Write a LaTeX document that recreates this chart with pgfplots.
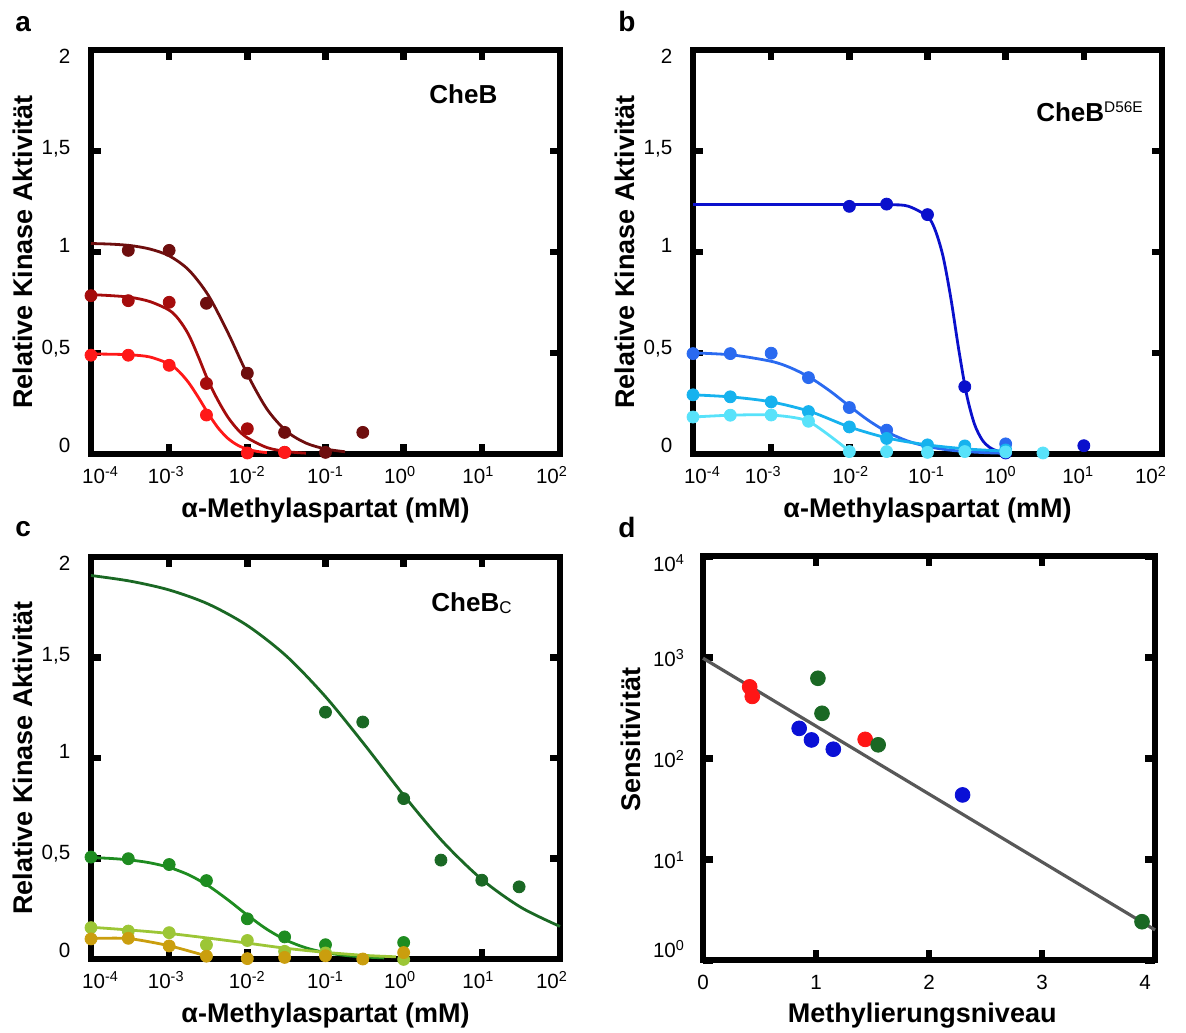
\documentclass[border=0pt]{standalone}
\usepackage{fontspec}
\setmainfont{Liberation Sans}
\usepackage{pgfplots}
\pgfplotsset{compat=1.18}

\definecolor{aDark}{RGB}{110,14,14}
\definecolor{aMid}{RGB}{165,12,12}
\definecolor{aLight}{RGB}{255,24,24}
\definecolor{bDark}{RGB}{10,16,204}
\definecolor{bMid}{RGB}{42,106,240}
\definecolor{bCyan}{RGB}{22,178,238}
\definecolor{bLight}{RGB}{88,226,250}
\definecolor{cDark}{RGB}{26,104,36}
\definecolor{cMid}{RGB}{30,140,32}
\definecolor{cLight}{RGB}{156,198,54}
\definecolor{cGold}{RGB}{202,158,14}
\definecolor{dRed}{RGB}{255,22,22}
\definecolor{dGreen}{RGB}{26,104,36}
\definecolor{dBlue}{RGB}{10,16,214}
\definecolor{dLine}{RGB}{88,88,88}

\newcommand{\tl}[2]{\raisebox{#1}[7.4pt][0pt]{#2}}
\newcommand{\dl}[2]{\raisebox{#1}[9pt][0pt]{10\textsuperscript{#2}}}
\newcommand{\xl}[2]{\makebox[0pt]{\hspace*{#1}#2}}
\newcommand{\tp}[1]{10\textsuperscript{#1}}

\pgfplotsset{
  myframe/.style={
    scale only axis,
    axis line style={line width=2.9pt, line cap=rect},
    tick style={black, line width=3.2pt},
    major tick length=5pt,
    tick align=inside,
    minor tick num=0,
    xminorticks=false, yminorticks=false,
    clip=false,
    tick label style={font=\fontsize{10.3}{12}\selectfont},
    label style={font=\bfseries\fontsize{13.5}{16}\selectfont},
  },
  kin/.style={
    myframe, width=234.5pt, height=202pt,
    xmin=-4, xmax=2, ymin=0, ymax=2,
    xtick={-4,-3,-2,-1,0,1,2}, ytick={0,0.5,1,1.5,2},
    yticklabels={{\tl{4.5pt}{0}},{\tl{3pt}{0,5}},{\tl{3.5pt}{1}},{\tl{1.75pt}{1,5}},{\tl{-2.85pt}{2}}},
    yticklabel style={xshift=-6.8pt},
    xticklabel style={yshift=-2.6pt},
    xlabel={α-Methylaspartat (mM)},
    ylabel={Relative Kinase Aktivität},
    xlabel style={at={(axis description cs:0.5,-0.141)}, anchor=center},
    ylabel style={at={(axis description cs:-0.146,0.5)}, anchor=center},
  },
  xac/.style={xticklabels={{\xl{9.5pt}{\tp{-4}}},{\xl{-3pt}{\tp{-3}}},{\xl{0pt}{\tp{-2}}},{\xl{0pt}{\tp{-1}}},{\xl{-3.5pt}{\tp{0}}},{\xl{-3.5pt}{\tp{1}}},{\xl{-8pt}{\tp{2}}}}},
  xb/.style={xticklabels={{\xl{9.4pt}{\tp{-4}}},{\xl{-8pt}{\tp{-3}}},{\xl{1.5pt}{\tp{-2}}},{\xl{-1pt}{\tp{-1}}},{\xl{-5pt}{\tp{0}}},{\xl{-5.6pt}{\tp{1}}},{\xl{-11pt}{\tp{2}}}}},
  crv/.style={smooth, line width=1.4pt, color=#1, mark=none},
  pts/.style={only marks, mark=*, mark size=3pt, color=#1, mark options={draw=none, fill=#1}},
}

\begin{document}
\begin{tikzpicture}

% ---------------- panel a ----------------
\begin{axis}[kin, xac, at={(45.5pt,289pt)}, anchor=south west]
\addplot[crv=aDark] coordinates {(-4,1.042) (-3.75,1.039) (-3.5,1.032) (-3.25,1.015) (-3,0.981) (-2.75,0.911) (-2.5,0.786) (-2.25,0.602) (-2,0.395) (-1.75,0.223) (-1.5,0.113) (-1.25,0.054) (-1,0.025) (-0.75,0.011)};
\addplot[crv=aMid] coordinates {(-4,0.789) (-3.75,0.784) (-3.5,0.776) (-3.25,0.755) (-3,0.712) (-2.875,0.665) (-2.75,0.590) (-2.625,0.480) (-2.5,0.362) (-2.375,0.265) (-2.25,0.183) (-2.125,0.122) (-2,0.080) (-1.75,0.032) (-1.5,0.012) (-1.25,0.004)};
\addplot[crv=aLight] coordinates {(-4,0.495) (-3.75,0.494) (-3.5,0.491) (-3.25,0.4805) (-3,0.4457) (-2.875,0.4087) (-2.75,0.3527) (-2.625,0.2793) (-2.5,0.200) (-2.375,0.1297) (-2.25,0.0776) (-2.125,0.0438) (-2,0.0239) (-1.875,0.0128) (-1.75,0.0068)};
\addplot[pts=aDark] coordinates {(-3.523,1.008) (-3,1.008) (-2.523,0.746) (-2,0.400) (-1.523,0.107) (-1,0.008) (-0.523,0.107)};
\addplot[pts=aMid] coordinates {(-4,0.784) (-3.523,0.759) (-3,0.751) (-2.523,0.349) (-2,0.125) (-1.523,0.008)};
\addplot[pts=aLight] coordinates {(-4,0.489) (-3.523,0.489) (-3,0.439) (-2.523,0.193) (-2,0.005) (-1.523,0.008)};
\end{axis}

% ---------------- panel b ----------------
\begin{axis}[kin, xb, at={(346.5pt,289pt)}, anchor=south west]
\addplot[crv=bDark] coordinates {(-4,1.235) (-3,1.235) (-2,1.235) (-1.5,1.234) (-1.25,1.227) (-1,1.1755) (-0.9,1.1067) (-0.8,0.976) (-0.7,0.768) (-0.6,0.516) (-0.5,0.2947) (-0.4,0.1486) (-0.3,0.0696) (-0.2,0.0313) (-0.1,0.0139) (0,0.0061)};
\addplot[crv=bMid] coordinates {(-4,0.5005) (-3.5,0.4903) (-3,0.4588) (-2.75,0.4265) (-2.5,0.3777) (-2.25,0.3124) (-2,0.2373) (-1.75,0.1648) (-1.5,0.1056) (-1.25,0.0638) (-1,0.037) (-0.75,0.0209) (-0.5,0.0116) (-0.25,0.0064) (0,0.0035)};
\addplot[crv=bCyan] coordinates {(-4,0.293) (-3.5,0.282) (-3,0.258) (-2.5,0.210) (-2,0.134) (-1.5,0.078) (-1,0.045) (-0.5,0.025) (0,0.014)};
\addplot[crv=bLight, tension=0.4] coordinates {(-4,0.183) (-3.523,0.192) (-3,0.193) (-2.523,0.162) (-2,0.015)};
\addplot[pts=bDark] coordinates {(-2,1.226) (-1.523,1.237) (-1,1.185) (-0.523,0.333) (0,0.005) (1,0.041)};
\addplot[pts=bMid] coordinates {(-4,0.497) (-3.523,0.497) (-3,0.499) (-2.523,0.378) (-2,0.23) (-1.523,0.118) (0,0.05)};
\addplot[pts=bCyan] coordinates {(-4,0.293) (-3.523,0.283) (-3,0.258) (-2.523,0.21) (-2,0.134) (-1.523,0.077) (-1,0.045) (-0.523,0.04) (0,0.02)};
\addplot[pts=bLight] coordinates {(-4,0.183) (-3.523,0.192) (-3,0.193) (-2.523,0.162) (-2,0.012) (-1.523,0.012) (-1,0.008) (-0.523,0.012) (0,0.01) (0.477,0.005)};
\node[anchor=base west, inner sep=0pt, font=\bfseries\fontsize{13}{15.6}\selectfont] at (rel axis cs:0.731,0.824) {CheB\raisebox{4.5pt}{\mdseries\fontsize{7.7}{9}\selectfont D56E}};
\end{axis}

% ---------------- panel c ----------------
\begin{axis}[kin, xac, height=201pt, at={(45.5pt,36.5pt)}, anchor=south west]
\addplot[crv=cDark] coordinates {(-4,1.908) (-3.5,1.880) (-3,1.836) (-2.5,1.766) (-2,1.659) (-1.5,1.507) (-1,1.305) (-0.5,1.066) (0,0.815) (0.5,0.584) (1,0.396) (1.5,0.257) (2,0.162)};
\addplot[crv=cMid] coordinates {(-4,0.5047) (-3.75,0.5003) (-3.5,0.4925) (-3.25,0.4788) (-3,0.4557) (-2.75,0.4187) (-2.5,0.3645) (-2.25,0.2948) (-2,0.2183) (-1.75,0.148) (-1.5,0.0931) (-1.25,0.0555) (-1,0.0319) (-0.75,0.0179) (-0.5,0.010) (-0.25,0.0055)};
\addplot[crv=cLight] coordinates {(-4,0.158) (-3.5,0.144) (-3,0.127) (-2.5,0.104) (-2,0.079) (-1.5,0.053) (-1,0.033) (-0.5,0.018) (-0.1,0.011)};
\addplot[crv=cGold, tension=0.4] coordinates {(-4,0.102) (-3.523,0.102) (-3,0.066) (-2.523,0.015)};
\addplot[pts=cDark] coordinates {(-1,1.228) (-0.523,1.179) (0,0.798) (0.477,0.492) (1,0.392) (1.477,0.359)};
\addplot[pts=cMid] coordinates {(-4,0.507) (-3.523,0.499) (-3,0.47) (-2.523,0.39) (-2,0.2) (-1.523,0.11) (-1,0.071) (0,0.082)};
\addplot[pts=cLight] coordinates {(-4,0.156) (-3.523,0.139) (-3,0.131) (-2.523,0.07) (-2,0.092) (-1.523,0.038) (-1,0.03) (0,-0.002)};
\addplot[pts=cGold] coordinates {(-4,0.1) (-3.523,0.103) (-3,0.065) (-2.523,0.014) (-2,0.002) (-1.523,0.008) (-1,0.016) (-0.523,0.0) (0,0.032)};
\end{axis}

% ---------------- panel d ----------------
\begin{axis}[myframe, width=226pt, height=202pt, at={(351.5pt,35.85pt)}, anchor=south west,
  xmin=0, xmax=4, ymode=log, ymin=1, ymax=10000,
  xtick={0,1,2,3,4}, ytick={1,10,100,1000,10000},
  xticklabels={{0},{1},{2},{3},{\xl{-10pt}{4}}},
  yticklabels={{\dl{6pt}{0}},{\dl{0pt}{1}},{\dl{0pt}{2}},{\dl{0pt}{3}},{\dl{-3pt}{4}}},
  yticklabel style={xshift=-5.5pt},
  xticklabel style={yshift=-4pt},
  xlabel={Methylierungsniveau}, ylabel={Sensitivität},
  xlabel style={at={(axis description cs:0.485,-0.138)}, anchor=center},
  ylabel style={at={(axis description cs:-0.159,0.546)}, anchor=center},
]
\addplot[color=dLine, line width=1.6pt, mark=none] coordinates {(0,980) (4,2.0)};
\addplot[only marks, mark=*, mark size=3.7pt, color=dRed, mark options={draw=none, fill=dRed}] coordinates {(0.413,510) (0.436,410) (1.435,154)};
\addplot[only marks, mark=*, mark size=3.7pt, color=dGreen, mark options={draw=none, fill=dGreen}] coordinates {(1.017,620) (1.053,279) (1.55,136) (3.885,2.41)};
\addplot[only marks, mark=*, mark size=3.7pt, color=dBlue, mark options={draw=none, fill=dBlue}] coordinates {(0.851,198) (0.96,152) (1.153,123) (2.297,43.4)};
\end{axis}

% panel labels and inset titles
\node[anchor=base west, inner sep=0pt, font=\bfseries\fontsize{14}{16}\selectfont] at (7.5pt,500.15pt) {a};
\node[anchor=base west, inner sep=0pt, font=\bfseries\fontsize{14}{16}\selectfont] at (309pt,500.15pt) {b};
\node[anchor=base west, inner sep=0pt, font=\bfseries\fontsize{14}{16}\selectfont] at (7.5pt,247.5pt) {c};
\node[anchor=base west, inner sep=0pt, font=\bfseries\fontsize{14}{16}\selectfont] at (309pt,247pt) {d};
\node[anchor=base west, inner sep=0pt, font=\bfseries\fontsize{13}{15.6}\selectfont] at (214.5pt,464pt) {CheB};
\node[anchor=base west, inner sep=0pt, font=\bfseries\fontsize{13}{15.6}\selectfont] at (215.5pt,210.15pt) {CheB\raisebox{-1pt}{\mdseries\fontsize{8.5}{10}\selectfont C}};

\pgfresetboundingbox
\path[use as bounding box] (0,0) rectangle (593pt,516pt);
\end{tikzpicture}
\end{document}
